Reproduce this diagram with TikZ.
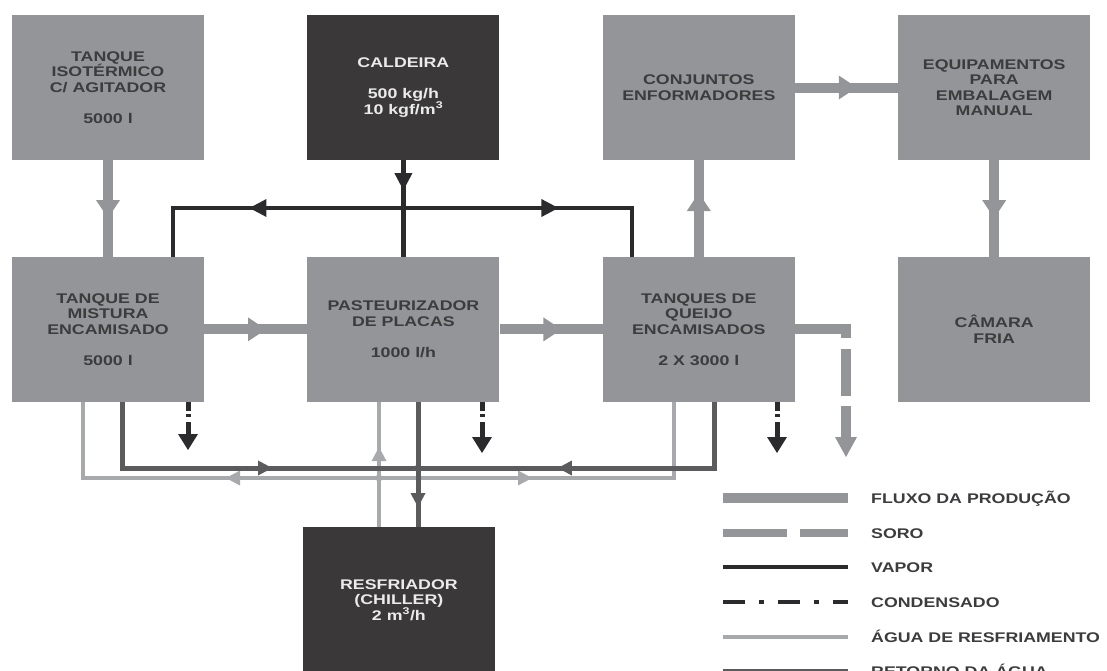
\documentclass[tikz,border=0pt]{standalone}
\usepackage{fontspec}
\setmainfont{Liberation Sans}[FakeStretch=1.27]
\usetikzlibrary{arrows.meta,positioning,decorations.markings}

\definecolor{cinza}{HTML}{939598}
\definecolor{escuro}{HTML}{3A3839}
\definecolor{texto}{HTML}{3C3C3E}
\definecolor{vaporcor}{HTML}{2B2A2C}
\definecolor{aguacor}{HTML}{A7A9AC}
\definecolor{retornocor}{HTML}{5B5B5E}

\begin{document}
\begin{tikzpicture}[x=1pt,y=-1pt,node distance=96.5pt and 103pt,
                    font=\fontsize{14}{15.5}\selectfont\bfseries,
                    arrowat/.style={postaction={decorate,decoration={markings,
                      mark=at position #1 with {\arrow{>}}}}}]
  \tikzstyle{box}=[rectangle,fill=cinza,text=texto,minimum width=192pt,
                   minimum height=145pt,inner sep=0pt,align=center]
  \tikzstyle{darkbox}=[box,fill=escuro,text=white!92!black]
  \tikzstyle{fluxo}=[color=cinza,line width=10pt,
                     >={Triangle[length=18pt,width=24pt,line width=0pt]}]
  \tikzstyle{soro}=[color=cinza,line width=10pt,line join=miter,
                    dash pattern=on 60pt off 11pt on 47pt off 10pt on 100pt off 1pt,
                    -{Triangle[length=20pt,width=22pt,line width=0pt]}]
  \tikzstyle{vapor}=[color=vaporcor,line width=4.5pt,
                     >={Triangle[length=17pt,width=18pt,line width=0pt]}]
  \tikzstyle{condensado}=[color=vaporcor,line width=5pt,
                          dash pattern=on 9pt off 3pt on 3pt off 5pt on 30pt off 1pt,
                          -{Triangle[length=16pt,width=20pt,line width=0pt]}]
  \tikzstyle{agua}=[color=aguacor,line width=4.5pt,
                    >={Triangle[length=14pt,width=15pt,line width=0pt]}]
  \tikzstyle{retorno}=[color=retornocor,line width=5pt,
                       >={Triangle[length=14pt,width=15pt,line width=0pt]}]
  \tikzstyle{sorolegenda}=[color=cinza,line width=8pt,dash pattern=on 64pt off 13pt]
  \tikzstyle{condlegenda}=[color=vaporcor,line width=4.5pt,
                           dash pattern=on 22pt off 14pt on 5pt off 14pt]
  \tikzstyle{legenda}=[anchor=base west,text=texto,inner sep=0pt]

  \useasboundingbox (0,0) rectangle (1107,670);
  \clip (0,0) rectangle (1107,670);

  % equipamentos
  \node[box] (iso) at (108,87.5) {TANQUE\\ISOTÉRMICO\\C/ AGITADOR\\[15.5pt]5000 l};
  \node[darkbox, right=of iso] (cald) {CALDEIRA\\[15.5pt]500 kg/h\\10 kgf/m\textsuperscript{3}};
  \node[box, right=of cald] (conj) {CONJUNTOS\\ENFORMADORES};
  \node[box, right=of conj] (equip) {EQUIPAMENTOS\\PARA\\EMBALAGEM\\MANUAL};
  \node[box, below=of iso] (mist) {TANQUE DE\\MISTURA\\ENCAMISADO\\[15.5pt]5000 l};
  \node[box, below=of cald] (past) {PASTEURIZADOR\\DE PLACAS\\[15.5pt]1000 l/h};
  \node[box, below=of conj] (queijo) {TANQUES DE\\QUEIJO\\ENCAMISADOS\\[15.5pt]2 X 3000 l};
  \node[box, below=of equip] (camara) {CÂMARA\\FRIA};
  \node[darkbox, below=125pt of past, xshift=-4.5pt] (resf) {RESFRIADOR\\(CHILLER)\\2 m\textsuperscript{3}/h};

  % pontos das linhas
  \coordinate (vl) at (173,208);
  \coordinate (vr) at (632,208);
  \coordinate (c1) at (188,450);
  \coordinate (c2) at (482,453);
  \coordinate (c3) at (777,453);
  \coordinate (s1) at (846,457);
  \coordinate (aj) at (379,478);
  \coordinate (al) at (83,478);
  \coordinate (ar) at (674,478);
  \coordinate (rj) at (418,468);
  \coordinate (rl) at (122,468);
  \coordinate (rr) at (714,468);

  % fluxo da producao
  \draw[fluxo, arrowat=0.6] (iso) -- (mist);
  \draw[fluxo, arrowat=0.6] (mist) -- (past);
  \draw[fluxo, arrowat=0.6] (past) -- (queijo);
  \draw[fluxo, arrowat=0.66] (queijo) -- (conj);
  \draw[fluxo, arrowat=0.6] (conj) -- (equip);
  \draw[fluxo, arrowat=0.6] (equip) -- (camara);
  \draw[soro] (queijo.east) -| (s1);

  % vapor e condensado
  \draw[vapor, arrowat=30pt] (cald) -- (past);
  \draw[vapor, arrowat=154pt] (cald.south |- vl) -- (vl) -- (mist.north -| vl);
  \draw[vapor, arrowat=155pt] (cald.south |- vr) -- (vr) -- (queijo.north -| vr);
  \draw[condensado] (mist.south -| c1) -- (c1);
  \draw[condensado] (past.south -| c2) -- (c2);
  \draw[condensado] (queijo.south -| c3) -- (c3);

  % agua de resfriamento
  \draw[agua, arrowat=80pt] (resf.north -| aj) -- (past.south -| aj);
  \draw[agua, arrowat=153pt] (aj) -- (al) -- (mist.south -| al);
  \draw[agua, arrowat=153pt] (aj) -- (ar) -- (queijo.south -| ar);
  \fill[aguacor] (aj) circle (3.5pt);

  % retorno
  \draw[retorno, arrowat=216pt] (mist.south -| rl) -- (rl) -- (rj);
  \draw[retorno, arrowat=222pt] (queijo.south -| rr) -- (rr) -- (rj);
  \draw[retorno, arrowat=105pt] (past.south -| rj) -- (resf.north -| rj);
  \fill[retornocor] (rj) circle (3.5pt);

  % legenda
  \coordinate (la1) at (723,498); \coordinate (lb1) at (848,498);
  \coordinate (la2) at (723,533); \coordinate (lb2) at (848,533);
  \coordinate (la3) at (723,567); \coordinate (lb3) at (848,567);
  \coordinate (la4) at (723,602); \coordinate (lb4) at (848,602);
  \coordinate (la5) at (723,637); \coordinate (lb5) at (848,637);
  \coordinate (la6) at (723,671); \coordinate (lb6) at (848,671);
  \draw[fluxo] (la1) -- (lb1);
  \draw[sorolegenda] (la2) -- (lb2);
  \draw[vapor] (la3) -- (lb3);
  \draw[condlegenda] (la4) -- (lb4);
  \draw[agua] (la5) -- (lb5);
  \draw[retorno] (la6) -- (lb6);
  \node[legenda] (leg1) at (871,503) {FLUXO DA PRODUÇÃO};
  \node[legenda] (leg2) at (871,538) {SORO};
  \node[legenda] (leg3) at (871,572) {VAPOR};
  \node[legenda] (leg4) at (871,607) {CONDENSADO};
  \node[legenda] (leg5) at (871,642) {ÁGUA DE RESFRIAMENTO};
  \node[legenda] (leg6) at (871,676) {RETORNO DA ÁGUA};
\end{tikzpicture}
\end{document}
